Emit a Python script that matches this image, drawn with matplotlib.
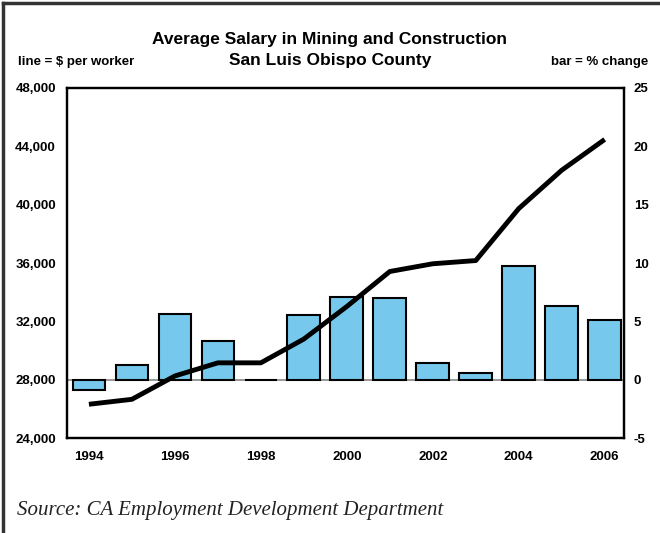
import numpy as np
import matplotlib.pyplot as plt
from matplotlib.lines import Line2D

years = [1994, 1995, 1996, 1997, 1998, 1999, 2000, 2001, 2002, 2003, 2004, 2005, 2006]
salary = [26320, 26660, 28260, 29160, 29160, 30790, 33020, 35420, 35950, 36170, 39730, 42360, 44470]
pct_change = [-0.9, 1.25, 5.6, 3.35, 0.0, 5.55, 7.05, 7.0, 1.4, 0.55, 9.75, 6.35, 5.15]
year_labels = ["1994", "", "1996", "", "1998", "", "2000", "", "2002", "", "2004", "", "2006"]

plt.rcParams['font.family'] = ['Liberation Sans', 'DejaVu Sans']
plt.rcParams['axes.unicode_minus'] = False

fig = plt.figure(figsize=(6.6, 5.33), dpi=100)
ax = fig.add_axes([0.1015, 0.178, 0.844, 0.657])
ax2 = ax.twinx()

x = np.arange(len(years))

# bars (% change) on right axis
ax2.axhline(0, color="#888888", lw=1.2, zorder=1)
ax2.bar(x, pct_change, width=0.76, color="#76C9EC", edgecolor="black", linewidth=1.5, zorder=2)
ax2.set_ylim(-5, 25)
ax2.set_yticks([-5, 0, 5, 10, 15, 20, 25])

# line ($ per worker) on left axis, drawn above bars
ax.set_zorder(ax2.get_zorder() + 1)
ax.patch.set_visible(False)
ax.plot(x, salary, color="black", lw=3.5, solid_capstyle="butt", zorder=3)
ax.set_ylim(24000, 48000)
ax.set_yticks(range(24000, 48001, 4000))
ax.set_yticklabels([f"{v:,}" for v in range(24000, 48001, 4000)])
ax.set_xlim(-0.51, 12.45)
ax.set_xticks(x)
ax.set_xticklabels(year_labels)

for a in (ax, ax2):
    a.tick_params(length=0, labelsize=9.5)
    for lab in a.get_yticklabels() + a.get_xticklabels():
        lab.set_fontweight("bold")
    for s in a.spines.values():
        s.set_linewidth(1.6)
ax.tick_params(axis="y", pad=8)
ax.tick_params(axis="x", pad=9)
ax2.tick_params(axis="y", pad=7)

fig.text(0.5, 0.925, "Average Salary in Mining and Construction", ha="center", va="center",
         fontsize=12.5, fontweight="bold")
fig.text(0.5, 0.887, "San Luis Obispo County", ha="center", va="center",
         fontsize=12.5, fontweight="bold")
fig.text(0.027, 0.883, "line = $ per worker", ha="left", va="center", fontsize=9.5, fontweight="bold")
fig.text(0.982, 0.883, "bar = % change", ha="right", va="center", fontsize=9.5, fontweight="bold")
fig.text(0.026, 0.043, "Source: CA Employment Development Department", ha="left", va="center",
         fontsize=15, style="italic", family=["Liberation Serif", "DejaVu Serif"], color="#222222")

# frame on left and top of the figure
fig.add_artist(Line2D([0.005, 0.005], [0, 0.995], transform=fig.transFigure, color="#333333", lw=2.5))
fig.add_artist(Line2D([0.005, 1], [0.995, 0.995], transform=fig.transFigure, color="#333333", lw=2.5))

fig.savefig("out.png", dpi=100)
